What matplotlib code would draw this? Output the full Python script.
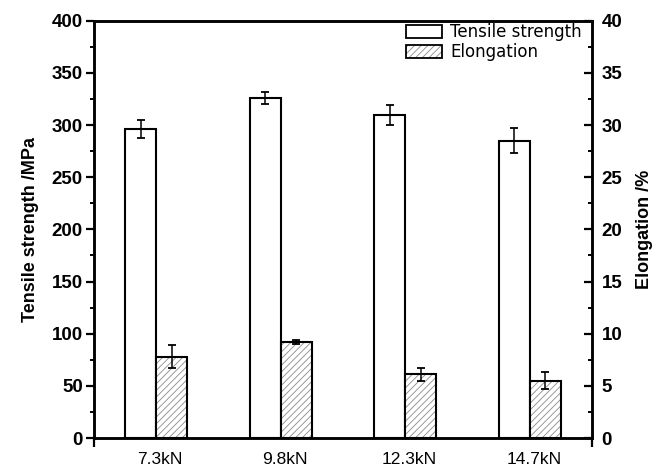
import numpy as np
import matplotlib
matplotlib.use("Agg")
import matplotlib.pyplot as plt
import matplotlib.transforms as mtransforms
from matplotlib.patches import Patch
from matplotlib.legend_handler import HandlerTuple

categories = ["7.3kN", "9.8kN", "12.3kN", "14.7kN"]
tensile = [296, 326, 310, 285]
tensile_err = [8.5, 5.5, 9.5, 12]
elongation = [7.8, 9.2, 6.1, 5.5]
elongation_err = [1.1, 0.2, 0.6, 0.8]

plt.rcParams['hatch.linewidth'] = 0.6
plt.rcParams['hatch.color'] = '#8a8a8a'

fig = plt.figure(figsize=(6.64, 4.74), dpi=100)
ax = fig.add_axes([0.1416, 0.0759, 0.75, 0.8804])
ax2 = ax.twinx()

x = np.arange(len(categories))
w = 0.25

ax.bar(x - w / 2, tensile, w, facecolor='white', edgecolor='black', linewidth=1.5, zorder=2)
ax.errorbar(x - w / 2, tensile, yerr=tensile_err, fmt='none', ecolor='black',
            elinewidth=1.1, capsize=3, capthick=1.3, zorder=3)

ax2.bar(x + w / 2, elongation, w, facecolor='white', edgecolor='#8a8a8a', hatch='/////',
        linewidth=0, zorder=2)
ax2.bar(x + w / 2, elongation, w, facecolor='none', edgecolor='black', linewidth=1.5, zorder=3)
ax2.errorbar(x + w / 2, elongation, yerr=elongation_err, fmt='none', ecolor='black',
             elinewidth=1.1, capsize=3, capthick=1.3, zorder=4)

ax.set_xlim(-0.5, 3.5)
ax.set_ylim(0, 400)
ax2.set_ylim(0, 40)

ax.set_yticks(np.arange(0, 401, 50))
ax.set_yticks(np.arange(25, 400, 50), minor=True)
ax2.set_yticks(np.arange(0, 41, 5))
ax2.set_yticks(np.arange(2.5, 40, 5), minor=True)

ax.set_xticks(x)
ax.set_xticks([-0.5, 3.5], minor=True)
ax.set_xticklabels(categories, fontsize=12.5, family='Liberation Sans')
ax.tick_params(axis='x', which='major', length=0, pad=10)
ax.tick_params(axis='x', which='minor', length=6.5, width=1.6, direction='out')
offset = mtransforms.ScaledTranslation(4 / 100, 0, fig.dpi_scale_trans)
for lab in ax.get_xticklabels():
    lab.set_transform(lab.get_transform() + offset)

ax.tick_params(axis='y', which='major', direction='out', length=6, width=1.6, pad=2,
               labelsize=13.5)
ax.tick_params(axis='y', which='minor', direction='out', length=3, width=1.4)
ax2.tick_params(axis='y', which='major', direction='in', length=5.5, width=1.6, pad=7,
                labelsize=13.5)
ax2.tick_params(axis='y', which='minor', direction='in', length=2.8, width=1.4)
for lab in ax.get_yticklabels() + ax2.get_yticklabels():
    lab.set_fontweight('bold')
    lab.set_family('Liberation Sans')

for a in (ax, ax2):
    for s in a.spines.values():
        s.set_linewidth(1.8)

ax.set_ylabel('Tensile strength /MPa', fontsize=13, fontweight='bold',
              family='Liberation Sans', labelpad=9)
ax2.set_ylabel('Elongation /%', fontsize=13, fontweight='bold',
               family='Liberation Sans', rotation=90, labelpad=10)

h1 = Patch(facecolor='white', edgecolor='black', linewidth=1.3)
h2a = Patch(facecolor='white', edgecolor='#8a8a8a', hatch='/////', linewidth=0)
h2b = Patch(facecolor='none', edgecolor='black', linewidth=1.3)
ax2.legend([h1, (h2a, h2b)], ['Tensile strength', 'Elongation'],
           handler_map={tuple: HandlerTuple(ndivide=1, pad=0)},
           loc='upper right', bbox_to_anchor=(0.985, 1.0), frameon=False,
           prop={'family': 'DejaVu Sans', 'size': 12},
           handlelength=2.2, handleheight=0.84, handletextpad=0.48,
           labelspacing=0.12, borderpad=0.15, borderaxespad=0.0)

fig.savefig('out.png', dpi=100)
